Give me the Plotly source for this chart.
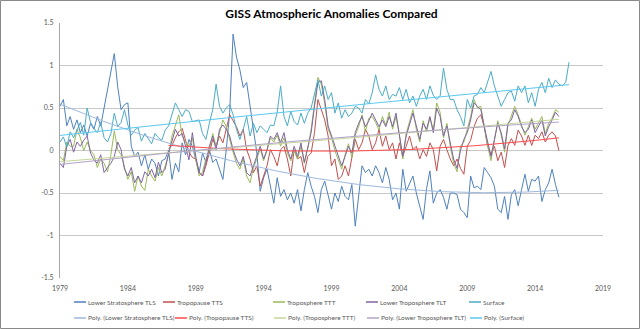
import numpy as np
import plotly.graph_objects as go

# ---------------- data (quarterly readings from the picture) ----------------
start_main = 1979.0
start_tts = 1987.0
step = 0.25

tls = [0.52, 0.60, 0.29, 0.40, 0.25, 0.36, 0.21, 0.30, 0.17, 0.32, 0.25, 0.40,
       0.29, 0.50, 0.70, 0.92, 1.14, 0.75, 0.48, 0.54, 0.56, 0.05, -0.07, -0.02,
       -0.18, -0.05, -0.22, -0.10, -0.15, -0.30, -0.12, -0.10, 0.00, -0.34, -0.15, -0.25,
       0.09, -0.05, 0.13, 0.05, -0.10, -0.26, -0.03, -0.14, 0.01, -0.14, -0.10, -0.22,
       -0.34, 0.01, 0.45, 1.37, 1.10, 0.95, 0.74, 0.80, 0.52, 0.25, -0.03, -0.48,
       -0.32, -0.22, -0.40, -0.62, -0.32, -0.54, -0.46, -0.58, -0.50, -0.62, -0.46, -0.71,
       -0.46, -0.26, -0.42, -0.54, -0.73, -0.46, -0.36, -0.54, -0.69, -0.50, -0.60, -0.42,
       -0.54, -0.58, -0.40, -0.89, -0.54, -0.18, -0.26, -0.22, -0.30, -0.18, -0.26, -0.38,
       -0.20, -0.34, -0.58, -0.50, -0.69, -0.22, -0.48, -0.38, -0.30, -0.50, -0.65, -0.81,
       -0.45, -0.24, -0.62, -0.50, -0.46, -0.55, -0.69, -0.50, -0.50, -0.52, -0.69, -0.73,
       -0.79, -0.30, -0.44, -0.42, -0.46, -0.20, -0.26, -0.32, -0.42, -0.69, -0.73, -0.54,
       -0.81, -0.52, -0.46, -0.65, -0.46, -0.28, -0.48, -0.34, -0.36, -0.30, -0.60, -0.46,
       -0.38, -0.22, -0.40, -0.55]

tts = [0.02, 0.06, 0.15, 0.22, 0.26, 0.12, -0.02, -0.08, -0.10, -0.26, -0.30, -0.18,
       -0.03, 0.13, 0.05, 0.17, 0.09, 0.25, 0.42, 0.35, 0.28, 0.17, 0.25, 0.01,
       -0.10, -0.26, -0.18, -0.42, -0.30, -0.18, 0.01, -0.07, -0.18, 0.01, 0.05, -0.10,
       -0.30, 0.01, -0.10, -0.07, -0.26, -0.07, -0.03, 0.21, 0.60, 0.48, 0.36, 0.17,
       -0.18, -0.10, -0.34, -0.30, -0.18, -0.30, -0.10, 0.13, 0.01, 0.09, 0.25, 0.17,
       0.01, 0.09, 0.25, 0.05, 0.17, 0.01, 0.09, -0.10, 0.09, -0.07, 0.05, 0.17,
       0.01, 0.05, -0.10, 0.01, -0.07, 0.09, 0.01, -0.24, 0.05, 0.13, 0.01, -0.10,
       -0.18, -0.10, -0.21, -0.28, 0.05, 0.12, 0.28, 0.38, 0.42, 0.28, 0.05, -0.05,
       0.05, -0.12, -0.02, -0.20, 0.06, 0.14, 0.06, 0.24, 0.17, 0.06, 0.18, 0.06,
       0.18, 0.14, 0.22, 0.10, 0.18, 0.22, 0.17, 0.00]

ttt = [-0.07, -0.12, 0.10, 0.05, 0.05, 0.25, 0.15, 0.00, 0.10, 0.00, -0.05, -0.20,
       -0.10, -0.15, -0.25, -0.05, 0.23, 0.01, -0.05, -0.18, -0.34, -0.25, -0.48, -0.30,
       -0.42, -0.47, -0.22, -0.30, -0.36, -0.20, -0.30, -0.18, -0.05, 0.17, 0.29, 0.42,
       0.17, 0.10, 0.05, 0.15, -0.10, -0.30, -0.25, -0.10, 0.00, 0.20, 0.05, 0.20,
       0.36, 0.28, 0.12, -0.02, -0.15, -0.22, -0.10, -0.30, -0.38, -0.20, -0.10, 0.02,
       -0.12, 0.00, 0.15, 0.10, 0.18, 0.05, 0.15, -0.03, -0.12, 0.00, -0.10, 0.05,
       -0.15, 0.02, 0.25, 0.55, 0.86, 0.78, 0.55, 0.25, 0.15, 0.00, -0.10, -0.22,
       -0.05, 0.08, -0.08, 0.18, 0.28, 0.42, 0.22, 0.38, 0.40, 0.33, 0.24, 0.40,
       0.30, 0.45, 0.25, 0.40, 0.18, -0.10, 0.20, 0.35, 0.48, 0.25, 0.10, 0.35,
       0.22, 0.38, 0.25, 0.56, 0.45, 0.15, 0.32, 0.05, -0.15, -0.25, 0.05, 0.10,
       0.25, 0.40, 0.60, 0.50, 0.52, 0.30, 0.05, -0.12, 0.10, 0.35, 0.18, -0.02,
       0.30, 0.40, 0.52, 0.42, 0.30, 0.18, 0.28, 0.38, 0.25, 0.32, 0.40, 0.20,
       0.32, 0.38, 0.48, 0.45]

tlt = [-0.15, -0.20, 0.05, 0.13, -0.02, 0.10, 0.05, 0.12, 0.17, -0.03, -0.11, -0.15,
       -0.05, -0.26, -0.20, -0.15, -0.07, 0.10, 0.01, -0.22, -0.30, -0.20, -0.38, -0.30,
       -0.38, -0.25, -0.30, -0.22, -0.32, -0.14, -0.26, -0.22, -0.03, 0.10, 0.25, 0.17,
       0.20, 0.05, -0.11, 0.21, -0.07, -0.26, -0.30, -0.14, 0.05, 0.17, 0.01, 0.25,
       0.30, 0.25, 0.17, 0.01, -0.10, -0.18, -0.07, -0.26, -0.30, -0.18, -0.07, 0.05,
       -0.10, 0.01, 0.17, 0.13, 0.21, 0.09, 0.21, 0.01, -0.10, 0.05, -0.07, 0.09,
       -0.14, 0.05, 0.21, 0.52, 0.80, 0.82, 0.60, 0.29, 0.17, 0.05, -0.07, -0.18,
       -0.07, 0.05, -0.03, 0.21, 0.32, 0.40, 0.28, 0.35, 0.44, 0.36, 0.28, 0.36,
       0.28, 0.40, 0.28, 0.44, 0.21, -0.07, 0.17, 0.32, 0.44, 0.29, 0.13, 0.32,
       0.25, 0.40, 0.21, 0.50, 0.40, 0.17, 0.29, 0.09, -0.10, -0.21, 0.00, 0.13,
       0.21, 0.36, 0.56, 0.52, 0.48, 0.28, 0.09, -0.07, 0.13, 0.32, 0.21, 0.02,
       0.32, 0.36, 0.48, 0.40, 0.28, 0.21, 0.25, 0.36, 0.21, 0.28, 0.36, 0.17,
       0.28, 0.36, 0.45, 0.40]

surface = [0.10, 0.16, 0.04, 0.22, 0.15, 0.25, 0.33, 0.18, 0.50, 0.33, 0.26, 0.21,
           0.33, 0.15, 0.10, 0.20, 0.44, 0.28, 0.33, 0.48, 0.30, 0.18, 0.24, 0.27,
           0.11, 0.20, 0.14, 0.08, 0.20, 0.15, 0.12, 0.24, 0.29, 0.44, 0.56, 0.48,
           0.40, 0.48, 0.46, 0.34, 0.35, 0.36, 0.20, 0.13, 0.32, 0.48, 0.78, 0.52,
           0.44, 0.50, 0.54, 0.42, 0.25, 0.13, 0.25, 0.40, 0.17, 0.32, 0.21, 0.29,
           0.25, 0.21, 0.30, 0.29, 0.45, 0.76, 0.40, 0.29, 0.46, 0.34, 0.30, 0.44,
           0.32, 0.44, 0.50, 0.68, 0.83, 0.64, 0.76, 0.60, 0.68, 0.44, 0.56, 0.38,
           0.48, 0.40, 0.44, 0.52, 0.50, 0.44, 0.60, 0.55, 0.68, 0.89, 0.72, 0.64,
           0.76, 0.60, 0.66, 0.64, 0.74, 0.60, 0.72, 0.56, 0.64, 0.52, 0.64, 0.72,
           0.60, 0.76, 0.65, 0.60, 0.64, 0.97, 0.72, 0.60, 0.60, 0.48, 0.40, 0.29,
           0.60, 0.50, 0.64, 0.66, 0.74, 0.68, 0.80, 0.93, 0.76, 0.64, 0.52, 0.60,
           0.68, 0.70, 0.58, 0.76, 0.68, 0.76, 0.56, 0.68, 0.52, 0.72, 0.80, 0.68,
           0.85, 0.74, 0.83, 0.78, 0.76, 0.80, 1.04]

series_names = ["Lower Stratosphere TLS", "Tropopause TTS", "Troposphere TTT",
                "Lower Troposphere TLT", "Surface"]
x_ticks = [1979, 1984, 1989, 1994, 1999, 2004, 2009, 2014, 2019]
y_ticks = [-1.5, -1, -0.5, 0, 0.5, 1, 1.5]
y_tick_text = ["-1.5", "-1", "-0.5", "0", "0.5", "1", "1.5"]

# ---------------- styling ----------------
colors = ["#4F81BD", "#C0504D", "#9BBB59", "#8064A2", "#4BACC6"]
trend_colors = ["#9DB9DE", "#FF4B4B", "#C3D69B", "#B3A2C7", "#5BC8F0"]
FONT = "Lato, Roboto, sans-serif"
TXT = "#595959"

W, H = 640, 329
ML, MR, MT, MB = 60, 37, 23, 51
PW, PH = W - ML - MR, H - MT - MB


def pxx(px):
    return (px - ML) / PW


def pxy(py):
    return (H - MB - py) / PH


fig = go.Figure()

data_sets = [(start_main, tls), (start_tts, tts), (start_main, ttt),
             (start_main, tlt), (start_main, surface)]
xs_all = [np.array([s + i * step for i in range(len(v))]) for s, v in data_sets]

for i, ((s, vals), name) in enumerate(zip(data_sets, series_names)):
    fig.add_trace(go.Scatter(x=xs_all[i], y=vals, mode="lines", name=name,
                             line=dict(color=colors[i], width=1), showlegend=False))

for i, ((s, vals), name) in enumerate(zip(data_sets, series_names)):
    x = xs_all[i]
    coef = np.polyfit(x - x[0], np.array(vals), 2)
    xf = np.linspace(x[0], x[-1], 200)
    yf = np.polyval(coef, xf - x[0])
    fig.add_trace(go.Scatter(x=xf, y=yf, mode="lines", name=f"Poly. ({name})",
                             line=dict(color=trend_colors[i], width=1), showlegend=False))

# ---------------- legend (two rows, Excel style) ----------------
legend_rows = [
    (302, [74, 163, 273, 366, 469], series_names, colors),
    (318, [74, 175, 274, 367, 470], [f"Poly. ({n})" for n in series_names], trend_colors),
]
shapes = []
annotations = []
for row_y, xs, labels, cols in legend_rows:
    for lx, lab, col in zip(xs, labels, cols):
        shapes.append(dict(type="line", xref="paper", yref="paper",
                           x0=pxx(lx), x1=pxx(lx + 12), y0=pxy(row_y), y1=pxy(row_y),
                           line=dict(color=col, width=1.5)))
        annotations.append(dict(text=lab, xref="paper", yref="paper",
                                x=pxx(lx + 13), y=pxy(row_y), xanchor="left",
                                yanchor="middle", showarrow=False, borderpad=0,
                                font=dict(family=FONT, size=6.5, color=TXT)))

shapes.append(dict(type="rect", xref="paper", yref="paper",
                   x0=pxx(0.5), x1=pxx(W - 0.5), y0=pxy(H - 0.5), y1=pxy(0.5),
                   line=dict(color="#898989", width=1), layer="below"))

fig.update_layout(
    width=W, height=H,
    margin=dict(l=ML, r=MR, t=MT, b=MB, autoexpand=False),
    paper_bgcolor="white", plot_bgcolor="white",
    showlegend=False,
    title=dict(text="<b>GISS Atmospheric Anomalies Compared</b>",
               x=0.5, xanchor="center", xref="paper",
               y=1 - 14 / H, yanchor="middle", yref="container",
               font=dict(family=FONT, size=12, color="#000000")),
    xaxis=dict(range=[1979, 2019], tickvals=x_ticks, ticktext=[str(t) for t in x_ticks],
               showgrid=False, zeroline=False, showline=False, ticks="",
               automargin=False, ticklabelstandoff=5,
               tickfont=dict(family=FONT, size=7, color=TXT)),
    yaxis=dict(range=[-1.5, 1.5], tickvals=y_ticks, ticktext=y_tick_text,
               showgrid=True, gridcolor="#C8C8C8", gridwidth=1, zeroline=False,
               showline=True, linecolor="#A6A6A6", linewidth=1, ticks="",
               automargin=False, ticklabelstandoff=4,
               tickfont=dict(family=FONT, size=7, color=TXT)),
    shapes=shapes,
    annotations=annotations,
)

fig.write_html("out.html")
